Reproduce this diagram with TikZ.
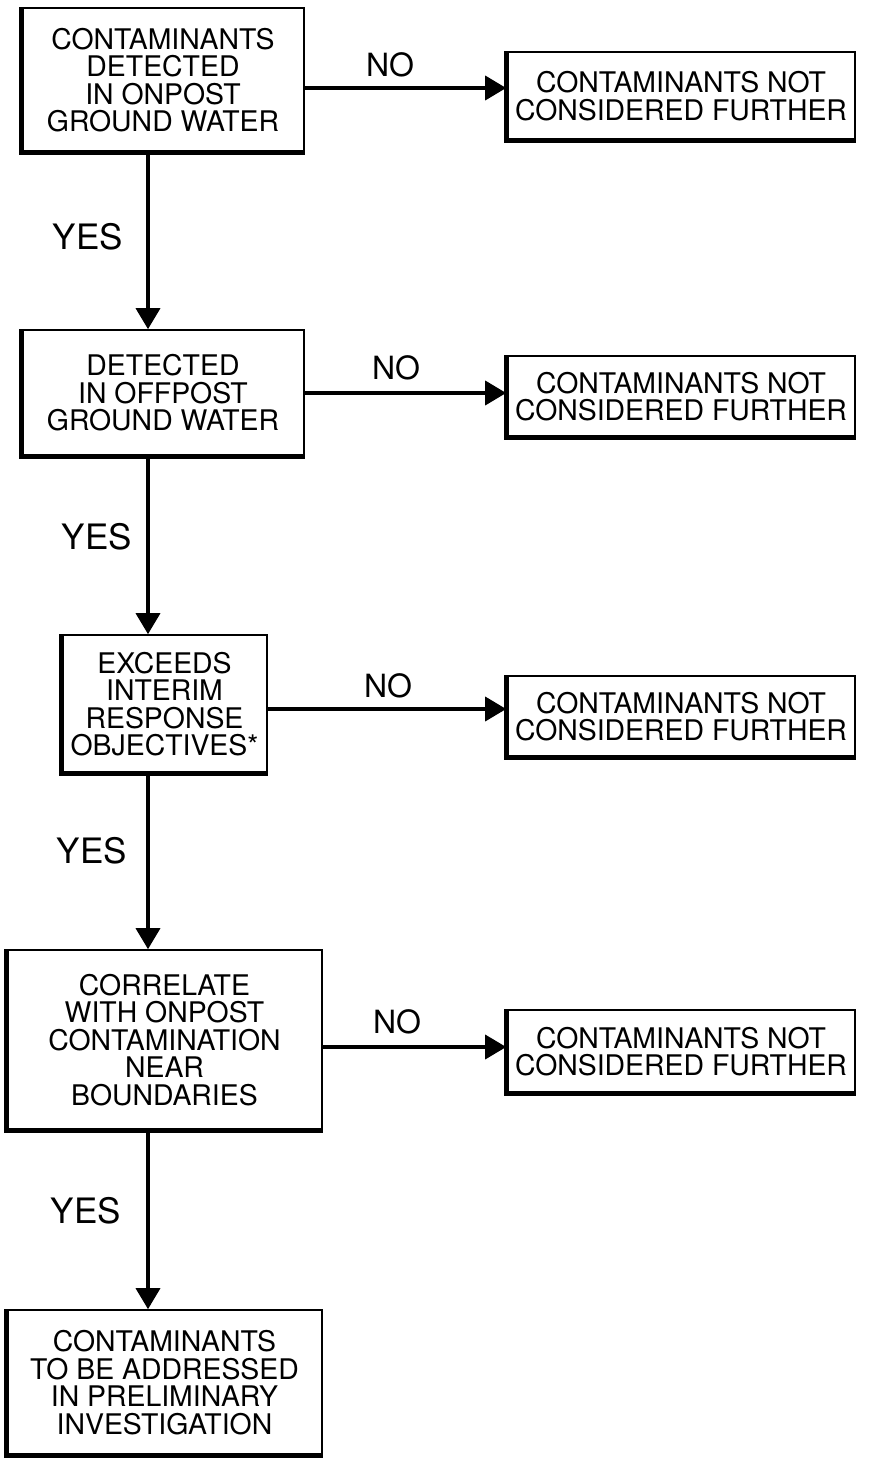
\documentclass[tikz,border=0pt]{standalone}
\usepackage{fontspec}
\setmainfont{TeX Gyre Heros}
\usetikzlibrary{arrows.meta, positioning}

\begin{document}
\begin{tikzpicture}
  [
    x=1pt, y=-1pt,
    Test/.style={rectangle, draw=black, line width=1.6pt, align=center, inner sep=0pt,
      font=\fontsize{28.4}{27.5}\selectfont,
      append after command={\pgfextra{\draw[line width=5pt]
        (\tikzlastnode.north west) -- (\tikzlastnode.south west) -- (\tikzlastnode.south east);}}},
    Result/.style={Test, minimum width=348},
    Answer/.style={inner sep=0pt, font=\fontsize{32}{32}\selectfont},
    Flow/.style={line width=3.5pt, -{Triangle[length=21pt, width=24pt]}}
  ]
  \useasboundingbox (0,0) rectangle (874,1458);
  \coordinate (spine) at (148,0);
  % Nodes
  \node[Test, minimum width=282, minimum height=144] (onpost) at (163,80)
    {CONTAMINANTS\\DETECTED\\IN ONPOST\\GROUND WATER};
  \node[Test, minimum width=282, minimum height=126] (offpost) at (163,393)
    {DETECTED\\IN OFFPOST\\GROUND WATER};
  \node[Test, minimum width=205, minimum height=138] (exceeds) at (164.5,704)
    {EXCEEDS\\INTERIM\\RESPONSE\\OBJECTIVES*};
  \node[Test, minimum width=315, minimum height=180] (correlate) at (164.5,1040)
    {CORRELATE\\WITH ONPOST\\CONTAMINATION\\NEAR\\BOUNDARIES};
  \node[Test, minimum width=315, minimum height=145] (address) at (164.5,1382.5)
    {CONTAMINANTS\\TO BE ADDRESSED\\IN PRELIMINARY\\INVESTIGATION};
  \node[Result, minimum height=88] (drop1) at (681,96) {CONTAMINANTS NOT\\CONSIDERED FURTHER};
  \node[Result, minimum height=81] (drop2) at (681,396.5) {CONTAMINANTS NOT\\CONSIDERED FURTHER};
  \node[Result, minimum height=81] (drop3) at (681,716.5) {CONTAMINANTS NOT\\CONSIDERED FURTHER};
  \node[Result, minimum height=83] (drop4) at (681,1051.5) {CONTAMINANTS NOT\\CONSIDERED FURTHER};
  % Labels
  \node[Answer] (no1) at (390,65) {NO};
  \node[Answer] (no2) at (396,368) {NO};
  \node[Answer] (no3) at (388,686) {NO};
  \node[Answer, font=\fontsize{32}{32}\selectfont] (no4) at (397,1022) {NO};
  \node[Answer, font=\fontsize{35}{35}\selectfont] (yes1) at (88,237) {YES};
  \node[Answer, font=\fontsize{35}{35}\selectfont] (yes2) at (97,537) {YES};
  \node[Answer, font=\fontsize{35}{35}\selectfont] (yes3) at (92,851) {YES};
  \node[Answer, font=\fontsize{35}{35}\selectfont] (yes4) at (86,1211) {YES};
  % Lines
  \draw[Flow] ([yshift=-8pt]onpost.east) -- ([yshift=-8pt]onpost.east -| drop1.west);
  \draw[Flow] (offpost.east) -- (offpost.east -| drop2.west);
  \draw[Flow] ([yshift=-5pt]exceeds.east) -- ([yshift=-5pt]exceeds.east -| drop3.west);
  \draw[Flow] ([yshift=-7pt]correlate.east) -- ([yshift=-7pt]correlate.east -| drop4.west);
  \draw[Flow] (spine |- onpost.south) -- (spine |- offpost.north);
  \draw[Flow] (spine |- offpost.south) -- (spine |- exceeds.north);
  \draw[Flow] (spine |- exceeds.south) -- (spine |- correlate.north);
  \draw[Flow] (spine |- correlate.south) -- (spine |- address.north);
\end{tikzpicture}
\end{document}
